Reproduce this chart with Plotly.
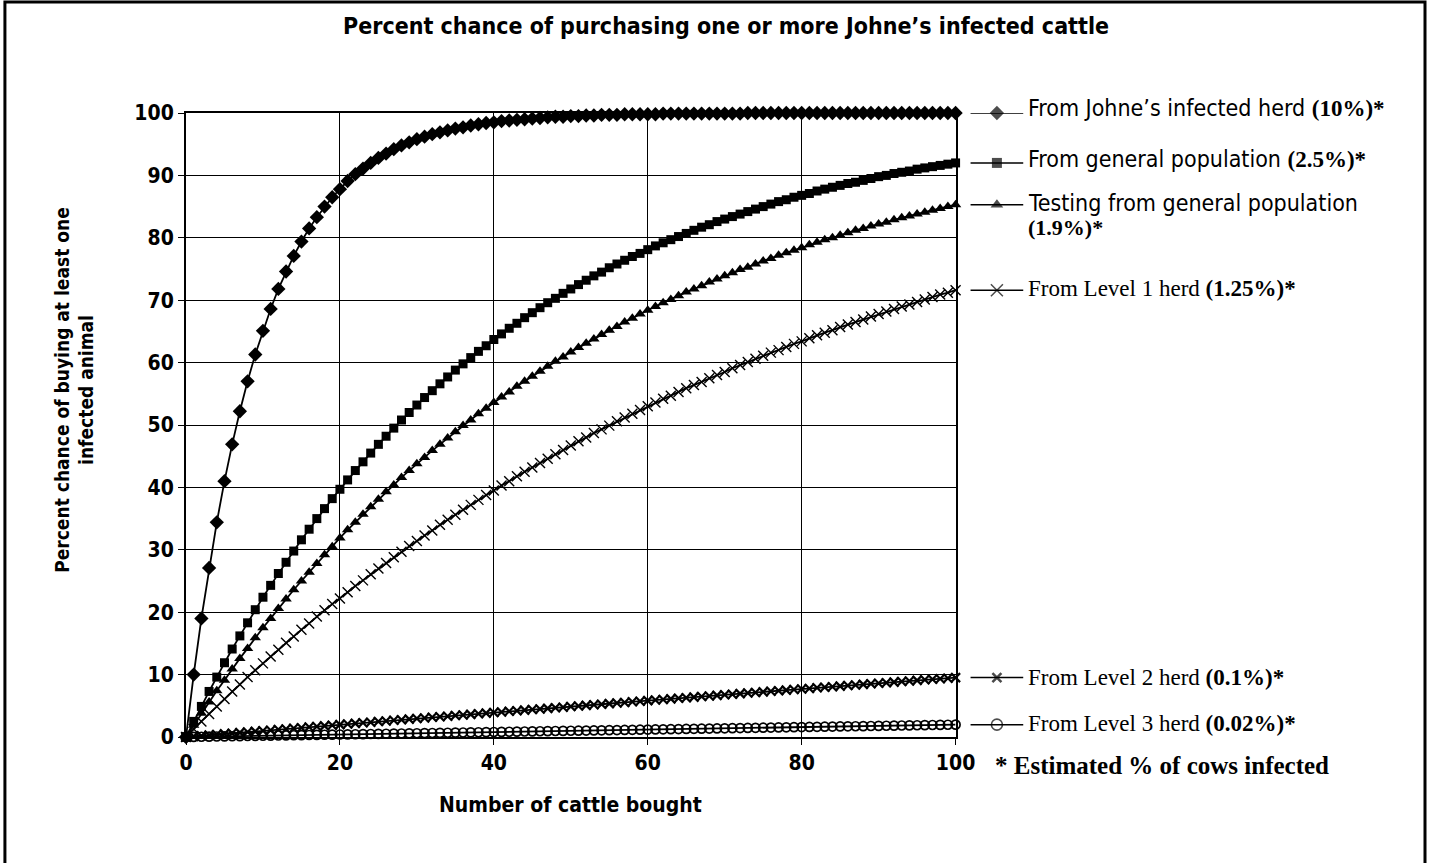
import plotly.graph_objects as go

# ---------------- data ----------------
cattle_bought = list(range(0, 101))
x_ticks = [0, 20, 40, 60, 80, 100]
y_ticks = [0, 10, 20, 30, 40, 50, 60, 70, 80, 90, 100]

johnes_herd_10 = [
    0.0, 10.0, 19.0, 27.1, 34.4, 41.0, 46.9, 52.2, 57.0, 61.3,
    65.1, 68.6, 71.8, 74.6, 77.1, 79.4, 81.5, 83.3, 85.0, 86.5,
    87.8, 89.1, 90.2, 91.1, 92.0, 92.8, 93.5, 94.2, 94.8, 95.3,
    95.8, 96.2, 96.6, 96.9, 97.2, 97.5, 97.7, 98.0, 98.2, 98.4,
    98.5, 98.7, 98.8, 98.9, 99.0, 99.1, 99.2, 99.3, 99.4, 99.4,
    99.5, 99.5, 99.6, 99.6, 99.7, 99.7, 99.7, 99.8, 99.8, 99.8,
    99.8, 99.8, 99.9, 99.9, 99.9, 99.9, 99.9, 99.9, 99.9, 99.9,
    99.9, 99.9, 99.9, 100.0, 100.0, 100.0, 100.0, 100.0, 100.0, 100.0,
    100.0, 100.0, 100.0, 100.0, 100.0, 100.0, 100.0, 100.0, 100.0, 100.0,
    100.0, 100.0, 100.0, 100.0, 100.0, 100.0, 100.0, 100.0, 100.0, 100.0,
    100.0]

general_pop_2_5 = [
    0.0, 2.5, 4.9, 7.3, 9.6, 11.9, 14.1, 16.2, 18.3, 20.4,
    22.4, 24.3, 26.2, 28.0, 29.8, 31.6, 33.3, 35.0, 36.6, 38.2,
    39.7, 41.2, 42.7, 44.1, 45.5, 46.9, 48.2, 49.5, 50.8, 52.0,
    53.2, 54.4, 55.5, 56.6, 57.7, 58.8, 59.8, 60.8, 61.8, 62.7,
    63.7, 64.6, 65.5, 66.3, 67.2, 68.0, 68.8, 69.6, 70.3, 71.1,
    71.8, 72.5, 73.2, 73.9, 74.5, 75.2, 75.8, 76.4, 77.0, 77.5,
    78.1, 78.7, 79.2, 79.7, 80.2, 80.7, 81.2, 81.7, 82.1, 82.6,
    83.0, 83.4, 83.8, 84.2, 84.6, 85.0, 85.4, 85.8, 86.1, 86.5,
    86.8, 87.1, 87.5, 87.8, 88.1, 88.4, 88.7, 88.9, 89.2, 89.5,
    89.8, 90.0, 90.3, 90.5, 90.7, 91.0, 91.2, 91.4, 91.6, 91.8,
    92.0]

testing_general_1_9 = [
    0.0, 1.9, 3.8, 5.6, 7.4, 9.1, 10.9, 12.6, 14.2, 15.9,
    17.5, 19.0, 20.6, 22.1, 23.6, 25.0, 26.4, 27.8, 29.2, 30.5,
    31.9, 33.2, 34.4, 35.7, 36.9, 38.1, 39.3, 40.4, 41.6, 42.7,
    43.8, 44.8, 45.9, 46.9, 47.9, 48.9, 49.9, 50.8, 51.8, 52.7,
    53.6, 54.5, 55.3, 56.2, 57.0, 57.8, 58.6, 59.4, 60.2, 60.9,
    61.7, 62.4, 63.1, 63.8, 64.5, 65.2, 65.8, 66.5, 67.1, 67.8,
    68.4, 69.0, 69.6, 70.1, 70.7, 71.3, 71.8, 72.3, 72.9, 73.4,
    73.9, 74.4, 74.9, 75.3, 75.8, 76.3, 76.7, 77.2, 77.6, 78.0,
    78.4, 78.9, 79.3, 79.7, 80.0, 80.4, 80.8, 81.2, 81.5, 81.9,
    82.2, 82.5, 82.9, 83.2, 83.5, 83.8, 84.1, 84.4, 84.7, 85.0,
    85.3]

level1_herd_1_25 = [
    0.0, 1.3, 2.5, 3.7, 4.9, 6.1, 7.3, 8.4, 9.6, 10.7,
    11.8, 12.9, 14.0, 15.1, 16.1, 17.2, 18.2, 19.3, 20.3, 21.3,
    22.2, 23.2, 24.2, 25.1, 26.1, 27.0, 27.9, 28.8, 29.7, 30.6,
    31.4, 32.3, 33.1, 34.0, 34.8, 35.6, 36.4, 37.2, 38.0, 38.8,
    39.5, 40.3, 41.0, 41.8, 42.5, 43.2, 43.9, 44.6, 45.3, 46.0,
    46.7, 47.4, 48.0, 48.7, 49.3, 49.9, 50.6, 51.2, 51.8, 52.4,
    53.0, 53.6, 54.2, 54.7, 55.3, 55.9, 56.4, 56.9, 57.5, 58.0,
    58.5, 59.1, 59.6, 60.1, 60.6, 61.1, 61.6, 62.0, 62.5, 63.0,
    63.4, 63.9, 64.4, 64.8, 65.2, 65.7, 66.1, 66.5, 66.9, 67.4,
    67.8, 68.2, 68.6, 69.0, 69.3, 69.7, 70.1, 70.5, 70.9, 71.2,
    71.6]

level2_herd_0_1 = [
    0.00, 0.10, 0.20, 0.30, 0.40, 0.50, 0.60, 0.70, 0.80, 0.90,
    1.00, 1.09, 1.19, 1.29, 1.39, 1.49, 1.59, 1.69, 1.78, 1.88,
    1.98, 2.08, 2.18, 2.27, 2.37, 2.47, 2.57, 2.67, 2.76, 2.86,
    2.96, 3.05, 3.15, 3.25, 3.34, 3.44, 3.54, 3.63, 3.73, 3.83,
    3.92, 4.02, 4.12, 4.21, 4.31, 4.40, 4.50, 4.59, 4.69, 4.78,
    4.88, 4.97, 5.07, 5.16, 5.26, 5.35, 5.45, 5.54, 5.64, 5.73,
    5.83, 5.92, 6.01, 6.11, 6.20, 6.30, 6.39, 6.48, 6.58, 6.67,
    6.76, 6.86, 6.95, 7.04, 7.14, 7.23, 7.32, 7.41, 7.51, 7.60,
    7.69, 7.78, 7.88, 7.97, 8.06, 8.15, 8.24, 8.34, 8.43, 8.52,
    8.61, 8.70, 8.79, 8.89, 8.98, 9.07, 9.16, 9.25, 9.34, 9.43,
    9.52]

level3_herd_0_02 = [
    0.00, 0.02, 0.04, 0.06, 0.08, 0.10, 0.12, 0.14, 0.16, 0.18,
    0.20, 0.22, 0.24, 0.26, 0.28, 0.30, 0.32, 0.34, 0.36, 0.38,
    0.40, 0.42, 0.44, 0.46, 0.48, 0.50, 0.52, 0.54, 0.56, 0.58,
    0.60, 0.62, 0.64, 0.66, 0.68, 0.70, 0.72, 0.74, 0.76, 0.78,
    0.80, 0.82, 0.84, 0.86, 0.88, 0.90, 0.92, 0.94, 0.96, 0.98,
    1.00, 1.01, 1.03, 1.05, 1.07, 1.09, 1.11, 1.13, 1.15, 1.17,
    1.19, 1.21, 1.23, 1.25, 1.27, 1.29, 1.31, 1.33, 1.35, 1.37,
    1.39, 1.41, 1.43, 1.45, 1.47, 1.49, 1.51, 1.53, 1.55, 1.57,
    1.59, 1.61, 1.63, 1.65, 1.67, 1.69, 1.71, 1.72, 1.74, 1.76,
    1.78, 1.80, 1.82, 1.84, 1.86, 1.88, 1.90, 1.92, 1.94, 1.96,
    1.98]

series_names = [
    "From Johne’s infected herd",
    "From general population",
    "Testing from general population",
    "From Level 1 herd",
    "From Level 2 herd",
    "From Level 3 herd",
]
series_pcts = ["(10%)*", "(2.5%)*", "(1.9%)*", "(1.25%)*", "(0.1%)*", "(0.02%)*"]
series_values = [johnes_herd_10, general_pop_2_5, testing_general_1_9,
                 level1_herd_1_25, level2_herd_0_1, level3_herd_0_02]

title_text = "Percent chance of purchasing one or more Johne’s infected cattle"
x_title = "Number of cattle bought"
y_title = "Percent chance of buying at least one<br>infected animal"
footnote = "* Estimated % of cows infected"

# ---------------- styling ----------------
NARROW = "Liberation Sans Narrow, Arial Narrow, DejaVu Sans Condensed, Liberation Sans, sans-serif"
SERIF = "Liberation Serif, Times New Roman, serif"
BLACK = "#000000"

styles = [
    dict(symbol="diamond", size=11, lw=0, ls=11, llw=0),
    dict(symbol="square", size=9, lw=0, ls=10, llw=0),
    dict(symbol="triangle-up", size=10, lw=0, ls=11, llw=0),
    dict(symbol="x-thin", size=10, lw=1.4, ls=12, llw=1.5),
    dict(symbol="x-thin", size=9, lw=2.2, ls=9, llw=2.5),
    dict(symbol="circle-open", size=9, lw=1.7, ls=11, llw=1.6),
]
label_fonts = [NARROW, NARROW, NARROW, SERIF, SERIF, SERIF]
label_sizes = [23, 23, 23, 23, 23, 23]
label_yshift = [5, 4, 2, 2, 0, 1]

W, H = 1449, 863
ML, MR, MT, MB = 186, 4, 113, 126
PW = W - ML - MR
PH = H - MT - MB
plot_right_px = 968
legend_x0_px, legend_x1_px = 983, 1037


def px_to_paper_x(px):
    return (px - ML) / PW


def px_to_paper_y(py):
    return (H - MB - py) / PH


fig = go.Figure()

for name, vals, st in zip(series_names, series_values, styles):
    fig.add_trace(go.Scatter(
        x=cattle_bought, y=vals, mode="lines+markers", name=name,
        line=dict(color=BLACK, width=1.8),
        marker=dict(symbol=st["symbol"], size=st["size"], color=BLACK,
                    line=dict(color=BLACK, width=st["lw"])),
        cliponaxis=False, showlegend=False,
        xaxis="x", yaxis="y",
    ))

annotations = []
for i, (name, pct, vals, st) in enumerate(zip(series_names, series_pcts, series_values, styles)):
    yv = vals[-1]
    fig.add_trace(go.Scatter(
        x=[0, 1, 2], y=[yv, yv, yv], mode="lines+markers",
        line=dict(color=BLACK, width=1.5),
        marker=dict(symbol=st["symbol"], size=[0, st["ls"], 0], color=BLACK,
                    line=dict(color=BLACK, width=st["llw"])),
        cliponaxis=False, showlegend=False, hoverinfo="skip",
        xaxis="x2", yaxis="y2",
    ))
    bold = f"<span style='font-family:Liberation Serif'><b>{pct}</b></span>"
    if i == 2:
        annotations.append(dict(
            xref="x2", yref="y2", x=2, y=yv, xanchor="left", yanchor="middle",
            xshift=3, yshift=label_yshift[i], showarrow=False, text=name,
            font=dict(family=label_fonts[i], size=label_sizes[i], color=BLACK)))
        annotations.append(dict(
            xref="x2", yref="y2", x=2, y=yv, xanchor="left", yanchor="middle",
            xshift=3, yshift=label_yshift[i] - 25, showarrow=False, text=bold,
            font=dict(family=SERIF, size=22, color=BLACK)))
    else:
        annotations.append(dict(
            xref="x2", yref="y2", x=2, y=yv, xanchor="left", yanchor="middle",
            xshift=3, yshift=label_yshift[i], showarrow=False,
            text=f"{name} {bold}",
            font=dict(family=label_fonts[i], size=label_sizes[i], color=BLACK)))

annotations.append(dict(
    xref="paper", yref="paper", x=px_to_paper_x(1006), y=px_to_paper_y(765),
    xanchor="left", yanchor="middle", showarrow=False,
    text=f"<b>{footnote}</b>", font=dict(family=SERIF, size=25, color=BLACK)))

annotations.append(dict(
    xref="paper", yref="paper", x=px_to_paper_x((ML + plot_right_px) / 2), y=px_to_paper_y(805),
    xanchor="center", yanchor="middle", showarrow=False,
    text=f"<b>{x_title}</b>", font=dict(family=NARROW, size=21, color=BLACK)))
annotations.append(dict(
    xref="paper", yref="paper", x=px_to_paper_x(72), y=px_to_paper_y(390),
    xanchor="center", yanchor="middle", showarrow=False, textangle=-90,
    text=f"<b>{y_title}</b>", font=dict(family=NARROW, size=19, color=BLACK)))

axis_common = dict(
    showgrid=True, gridcolor=BLACK, gridwidth=1,
    showline=True, linecolor=BLACK, linewidth=2, mirror=True,
    ticks="outside", ticklen=6, tickwidth=1, tickcolor=BLACK,
    tickfont=dict(family=NARROW, size=21, color=BLACK, weight="bold"),
    zeroline=False, fixedrange=True,
)

fig.update_layout(
    width=W, height=H,
    margin=dict(l=ML, r=MR, t=MT, b=MB),
    paper_bgcolor="white", plot_bgcolor="white",
    title=dict(text=f"<b>{title_text}</b>", x=726 / W, xref="container", xanchor="center",
               y=1 - 26 / H, yref="container", yanchor="middle",
               font=dict(family=NARROW, size=23, color=BLACK)),
    xaxis=dict(domain=[0, px_to_paper_x(plot_right_px)], range=[0, 100],
               tickvals=x_ticks, ticktext=[str(v) for v in x_ticks], anchor="y", **axis_common),
    yaxis=dict(domain=[0, 1], range=[0, 100], tickvals=y_ticks,
               ticktext=[str(v) for v in y_ticks], anchor="x", **axis_common),
    xaxis2=dict(domain=[px_to_paper_x(legend_x0_px), px_to_paper_x(legend_x1_px)],
                range=[0, 2], visible=False, anchor="y2", fixedrange=True),
    yaxis2=dict(domain=[0, 1], range=[0, 100], visible=False, anchor="x2", fixedrange=True),
    annotations=annotations,
    shapes=[dict(type="rect", xref="paper", yref="paper",
                 x0=px_to_paper_x(2), x1=px_to_paper_x(1445),
                 y0=px_to_paper_y(880), y1=px_to_paper_y(2),
                 line=dict(color=BLACK, width=3), fillcolor="rgba(0,0,0,0)", layer="above")],
    showlegend=False,
)

fig.write_html(
    "out.html",
    config={"displayModeBar": False},
    post_script="document.body.style.margin='0';document.body.style.overflow='hidden';",
)
